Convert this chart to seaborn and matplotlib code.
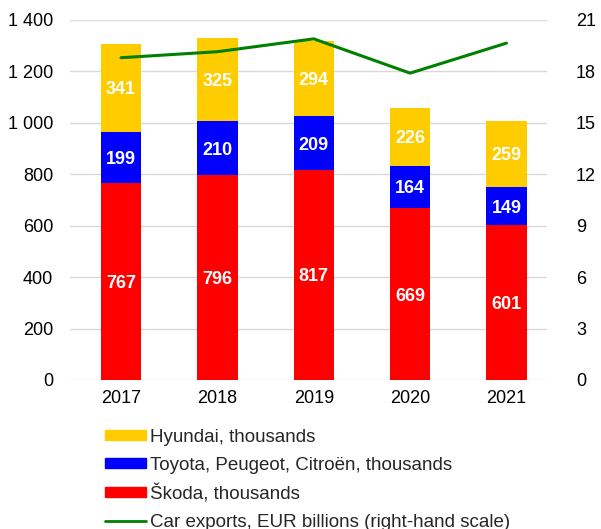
import matplotlib
matplotlib.use("Agg")
import matplotlib.pyplot as plt
from matplotlib.patches import Patch
from matplotlib.lines import Line2D
from matplotlib.ticker import FuncFormatter
import seaborn as sns
import pandas as pd
import numpy as np

years = ["2017", "2018", "2019", "2020", "2021"]
skoda = [767, 796, 817, 669, 601]
toyota = [199, 210, 209, 164, 149]
hyundai = [341, 325, 294, 226, 259]
exports = [18.8, 19.15, 19.9, 17.9, 19.65]

labels = ["Hyundai, thousands", "Toyota, Peugeot, Citroën, thousands",
          "Škoda, thousands", "Car exports, EUR billions (right-hand scale)"]
c_h, c_t, c_s, c_l = "#FFCC00", "#0000FF", "#FF0000", "#008000"

sns.set_theme(style="white")
plt.rcParams['font.family'] = ['Liberation Sans', 'DejaVu Sans']

df = pd.DataFrame({"year": years, "skoda": skoda, "toyota": toyota, "hyundai": hyundai,
                   "exports": exports})
df["st"] = df["skoda"] + df["toyota"]
df["total"] = df["st"] + df["hyundai"]
df["pos"] = np.arange(len(years))

fig = plt.figure(figsize=(6.01, 5.29), dpi=100)
ax = fig.add_axes([0.1165, 0.2817, 0.7935, 0.6805])

w = 0.42
sns.barplot(data=df, x="year", y="total", color=c_h, width=w, saturation=1, linewidth=0, ax=ax)
sns.barplot(data=df, x="year", y="st", color=c_t, width=w, saturation=1, linewidth=0, ax=ax)
sns.barplot(data=df, x="year", y="skoda", color=c_s, width=w, saturation=1, linewidth=0, ax=ax)

for i in range(len(years)):
    s, t, h = skoda[i], toyota[i], hyundai[i]
    for yv, val in [(s / 2 - 8, s), (s + t / 2 - 8, t), (s + t + h / 2 - 8, h)]:
        ax.text(i, yv, str(val), ha="center", va="center", color="white",
                fontsize=13, fontweight="bold")

ax.set_ylim(0, 1400)
ax.set_xlim(-0.53, 4.42)
ax.set_yticks(range(0, 1401, 200))
ax.yaxis.set_major_formatter(FuncFormatter(lambda v, p: f"{int(v):,}".replace(",", " ")))
ax.yaxis.grid(True, color="#D9D9D9", linewidth=1)
ax.set_axisbelow(True)
ax.set_xlabel("")
ax.set_ylabel("")
for sp in ax.spines.values():
    sp.set_visible(False)
ax.tick_params(axis="both", labelsize=13, colors="black", length=0)
ax.tick_params(axis="y", pad=12)
ax.tick_params(axis="x", pad=7)

ax2 = ax.twinx()
sns.lineplot(data=df, x="pos", y="exports", color=c_l, linewidth=2.2, ax=ax2)
ax2.set_ylim(0, 21)
ax2.set_yticks(range(0, 22, 3))
ax2.set_ylabel("")
ax2.set_xlabel("")
for sp in ax2.spines.values():
    sp.set_visible(False)
ax2.tick_params(axis="y", labelsize=13, colors="black", length=0, pad=21)
ax2.grid(False)
ax.set_xlim(-0.53, 4.42)

handles = [Patch(color=c_h), Patch(color=c_t), Patch(color=c_s),
           Line2D([], [], color=c_l, linewidth=2)]
fig.legend(handles, labels, loc="upper left", bbox_to_anchor=(0.1747, 0.189),
           frameon=False, fontsize=13.5, handlelength=2.2, handleheight=0.45,
           handletextpad=0.22, labelspacing=0.56, borderaxespad=0, borderpad=0)

fig.savefig("out.png", dpi=100)
